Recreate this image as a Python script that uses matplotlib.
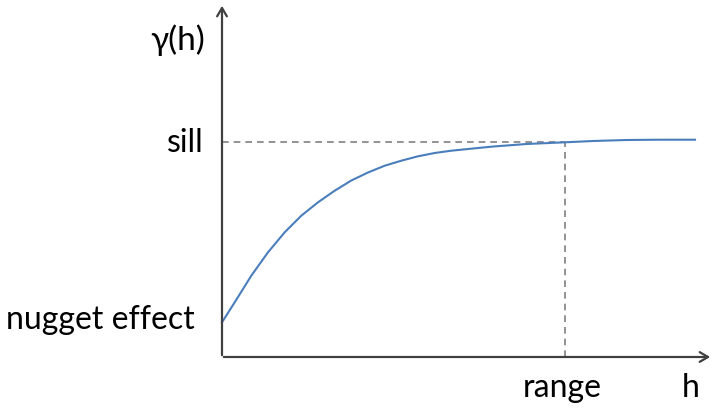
import matplotlib.pyplot as plt

plt.rcParams['font.family'] = ['Lato', 'DejaVu Sans']

# semivariogram curve (h, gamma) in pixel-like units
h = [0, 12.7, 29.3, 46, 62.7, 79.3, 96, 112.7, 129.3, 146, 162.7, 179.3,
     196, 212.7, 229.3, 256, 271.3, 304.7, 343, 371.3, 404.7, 438, 473]
gamma = [34.7, 54.7, 81.3, 104.7, 124.7, 141.3, 154.7, 166.3, 176.5, 184.5, 191.3, 196.3,
         200.7, 204, 206.3, 209, 210.5, 213, 214.7, 216, 217, 217.3, 217.3]

sill = 215.3
rng = 343

fig = plt.figure(figsize=(7.14, 4.10), dpi=100)
ax = fig.add_axes([0, 0, 1, 1])
ax.set_xlim(-222, 492)
ax.set_ylim(-52, 358)
ax.axis('off')

axis_col = '#404040'
# axes with open arrow heads
ax.annotate('', xy=(491, 0), xytext=(-1, 0),
            arrowprops=dict(arrowstyle='->,head_length=0.6,head_width=0.35', color=axis_col, lw=1.6))
ax.annotate('', xy=(0, 354), xytext=(0, -1),
            arrowprops=dict(arrowstyle='->,head_length=0.6,head_width=0.35', color=axis_col, lw=1.6))

# dashed guides
ax.plot([0, rng], [sill, sill], color='#808080', lw=1.2, dashes=(4, 3))
ax.plot([rng, rng], [0, sill], color='#808080', lw=1.2, dashes=(4, 3))

ax.plot(h, gamma, color='#4a7ebb', lw=1.5)

fs = 23
ax.text(-44, 318, 'γ(h)', fontsize=24, ha='center', va='center')
ax.text(-37, sill, 'sill', fontsize=fs, ha='center', va='center')
ax.text(-122, 38, 'nugget effect', fontsize=fs, ha='center', va='center')
ax.text(rng - 3, -30, 'range', fontsize=fs, ha='center', va='center')
ax.text(469, -30, 'h', fontsize=fs, ha='center', va='center')

fig.savefig('out.png', dpi=100)
